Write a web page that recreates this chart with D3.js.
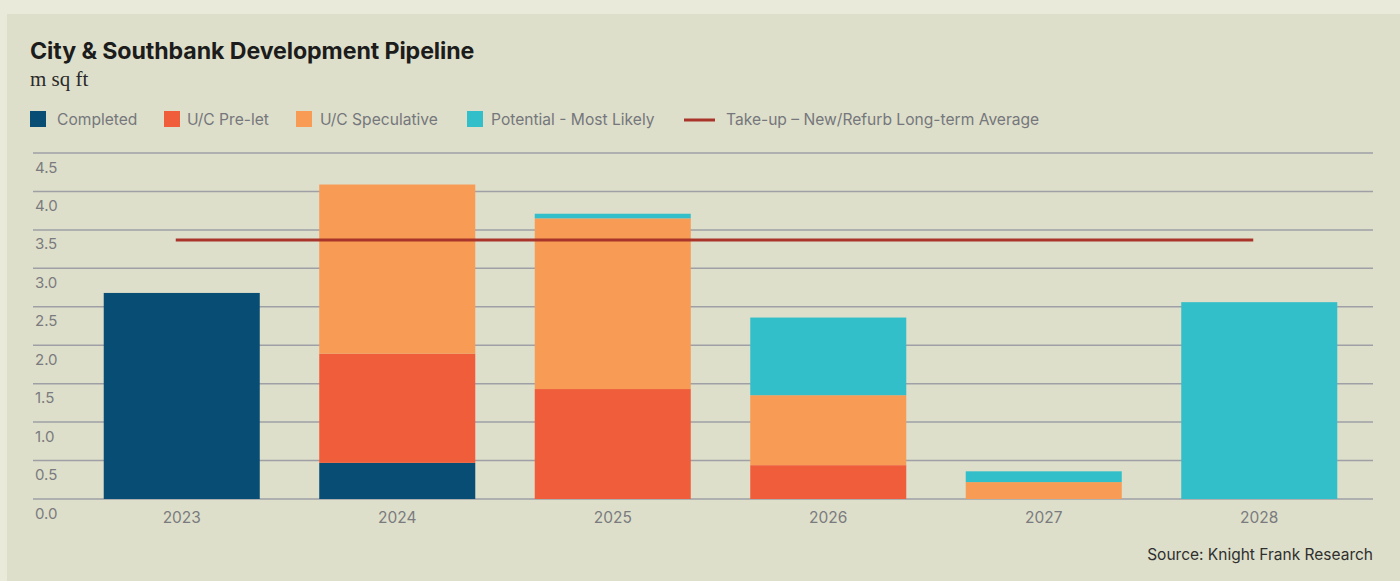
<!DOCTYPE html>
<html>
<head>
<meta charset="utf-8">
<script src="https://cdn.jsdelivr.net/npm/d3@7"></script>
<style>
  html, body { margin: 0; padding: 0; background: #eaeadb; }
  svg { display: block; }
</style>
</head>
<body>
<svg id="chart" width="1400" height="581"></svg>
<script>
// ---- Data ----
const years = ["2023", "2024", "2025", "2026", "2027", "2028"];
const completed   = [2.68, 0.47, 0.00, 0.00, 0.00, 0.00];
const preLet      = [0.00, 1.42, 1.43, 0.44, 0.00, 0.00];
const speculative = [0.00, 2.20, 2.22, 0.91, 0.22, 0.00];
const potential   = [0.00, 0.00, 0.06, 1.01, 0.14, 2.56];
const takeUpAverage = 3.37;
const yTicks = [0, 0.5, 1, 1.5, 2, 2.5, 3, 3.5, 4, 4.5];
const seriesNames = ["Completed", "U/C Pre-let", "U/C Speculative", "Potential - Most Likely"];
const lineName = "Take-up \u2013 New/Refurb Long-term Average";
const seriesColors = ["#074d74", "#f05d3b", "#f79b55", "#33bfc9"];
const lineColor = "#a8342a";

const svg = d3.select("#chart");
const sans = "Inter, 'Noto Sans', sans-serif";

// panel
svg.append("rect").attr("x", 7).attr("y", 14).attr("width", 1393).attr("height", 567).attr("fill", "#dedfca");

// title
svg.append("text").attr("x", 30).attr("y", 59)
  .attr("font-family", sans).attr("font-weight", 700).attr("font-size", 23.2)
  .attr("letter-spacing", "-0.1px").attr("fill", "#1c1c1c")
  .text("City & Southbank Development Pipeline");
svg.append("text").attr("x", 30).attr("y", 86)
  .attr("font-family", "'Liberation Serif', 'DejaVu Serif', serif").attr("font-size", 21)
  .attr("fill", "#2a2a2a").text("m sq ft");

// legend
const legendX = [30, 164, 296, 467];
const legendTextX = [57, 187, 320, 491];
const legend = svg.append("g");
seriesNames.forEach((n, i) => {
  legend.append("rect").attr("x", legendX[i]).attr("y", 111).attr("width", 16).attr("height", 16).attr("fill", seriesColors[i]);
  legend.append("text").attr("x", legendTextX[i]).attr("y", 125)
    .attr("font-family", sans).attr("font-size", 15.6).attr("fill", "#75777c").text(n);
});
legend.append("line").attr("x1", 684).attr("x2", 715).attr("y1", 120).attr("y2", 120)
  .attr("stroke", lineColor).attr("stroke-width", 3);
legend.append("text").attr("x", 726).attr("y", 125)
  .attr("font-family", sans).attr("font-size", 15.6).attr("fill", "#75777c").text(lineName);

// scales
const x = d3.scaleBand().domain(years).range([74, 1367]).paddingInner(0.276).paddingOuter(0.138);
const y = d3.scaleLinear().domain([0, 4.5]).range([499, 153]);

// gridlines
const grid = svg.append("g");
grid.selectAll("line").data(yTicks).join("line")
  .attr("x1", 33).attr("x2", 1373)
  .attr("y1", d => y(d)).attr("y2", d => y(d))
  .attr("stroke", "#9ea0a6").attr("stroke-width", 1.5);

// y axis labels
const yAxis = d3.axisLeft(y).tickValues(yTicks).tickFormat(d3.format(".1f")).tickSize(0);
const yg = svg.append("g").attr("transform", "translate(35,0)").call(yAxis);
yg.select(".domain").remove();
yg.selectAll("text").attr("text-anchor", "start").attr("x", 0).attr("dy", 0)
  .attr("transform", "translate(0,19)")
  .attr("font-family", sans).attr("font-size", 15).attr("fill", "#7a7b7f");

// stacked bars
const rows = years.map((yr, i) => ({ year: yr, s0: completed[i], s1: preLet[i], s2: speculative[i], s3: potential[i] }));
const stack = d3.stack().keys(["s0", "s1", "s2", "s3"])(rows);
svg.append("g").selectAll("g").data(stack).join("g")
  .attr("fill", (d, i) => seriesColors[i])
  .selectAll("rect").data(d => d.filter(p => p[1] - p[0] > 0)).join("rect")
  .attr("x", d => x(d.data.year))
  .attr("width", x.bandwidth())
  .attr("y", d => y(d[1]))
  .attr("height", d => y(d[0]) - y(d[1]));

// x axis labels
const xAxis = d3.axisBottom(x).tickSize(0);
const xg = svg.append("g").attr("transform", "translate(0,499)").call(xAxis);
xg.select(".domain").remove();
xg.selectAll("text").attr("dy", 0).attr("y", 24)
  .attr("font-family", sans).attr("font-size", 15.5).attr("fill", "#7a7b7f");

// take-up average line
const lineData = [years[0], years[years.length - 1]].map(yr => ({ year: yr, v: takeUpAverage }));
svg.append("path").datum(lineData)
  .attr("fill", "none").attr("stroke", lineColor).attr("stroke-width", 3)
  .attr("d", d3.line().x(d => x(d.year) + x.bandwidth() / 2 - 6).y(d => y(d.v)));

// source
svg.append("text").attr("x", 1373).attr("y", 560).attr("text-anchor", "end")
  .attr("font-family", sans).attr("font-size", 15.5).attr("fill", "#2f2f2f")
  .text("Source: Knight Frank Research");
</script>
</body>
</html>
